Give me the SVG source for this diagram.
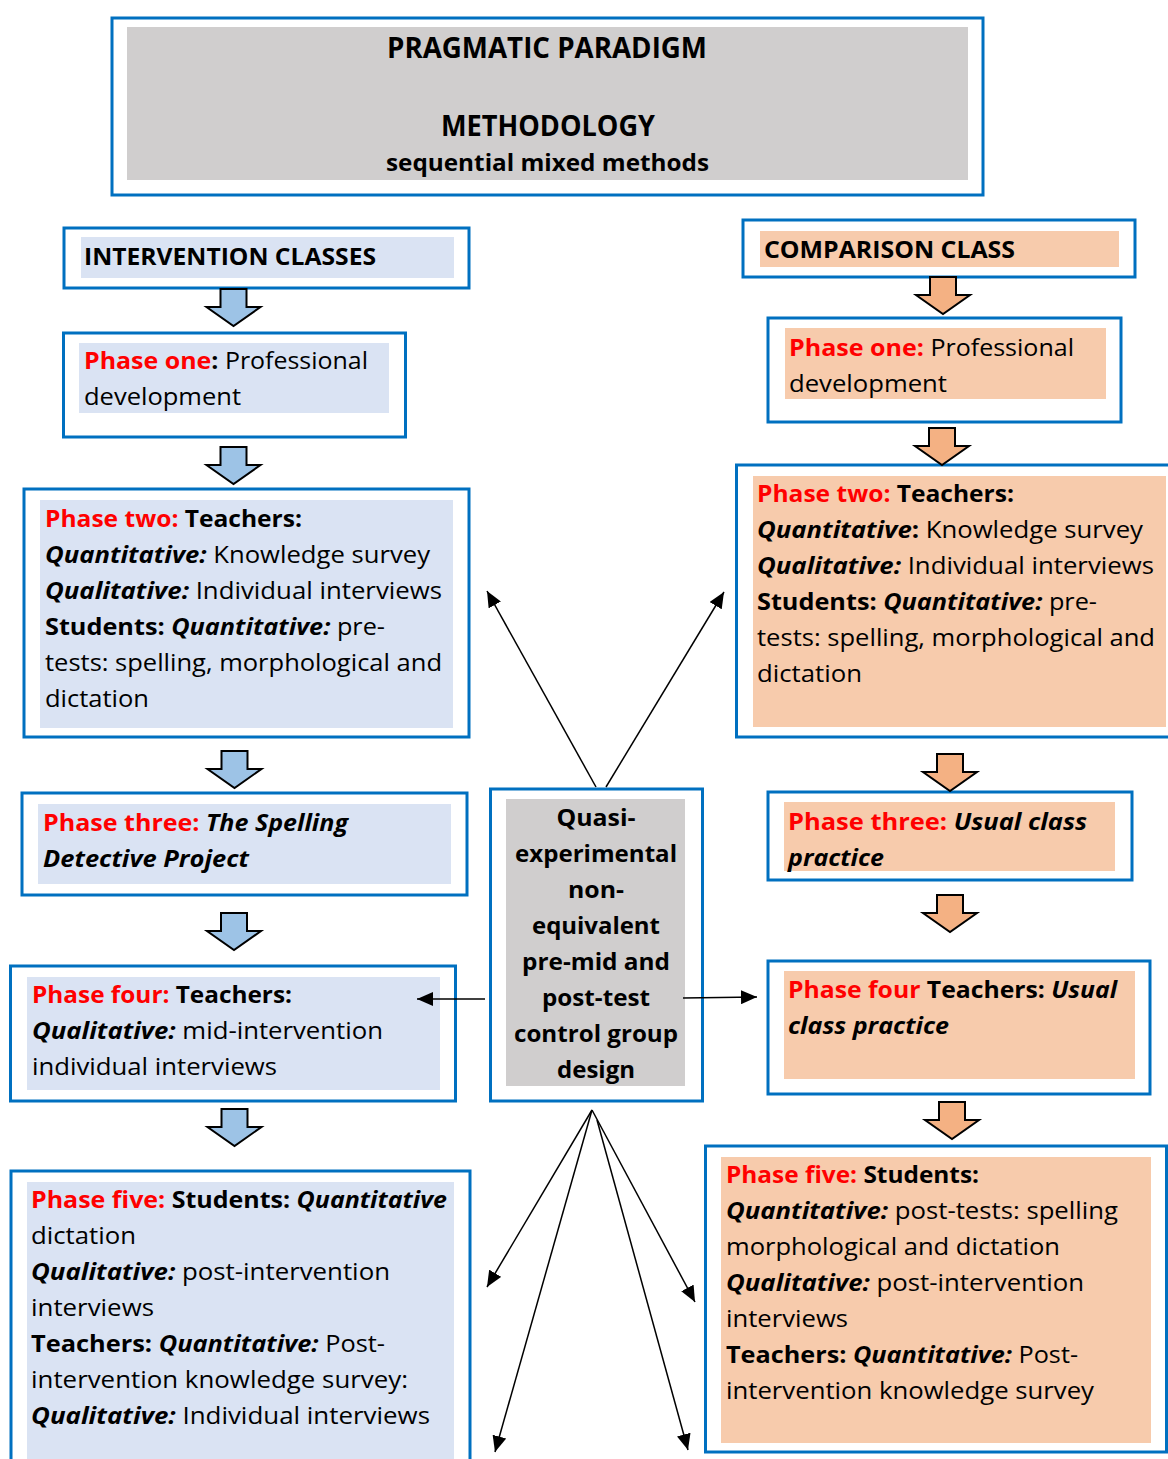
<svg xmlns="http://www.w3.org/2000/svg" xmlns:xlink="http://www.w3.org/1999/xlink" width="1168" height="1459" viewBox="0 0 1168 1459">
  <style>
    .frame { fill: #ffffff; stroke: #0070C0; stroke-width: 3; }
    .grey { fill: #D0CECE; }
    .blue { fill: #DAE3F3; }
    .peach { fill: #F7CBAC; }
    .t { font-family: "Open Sans", "Noto Sans", "Liberation Sans", sans-serif; font-size: 24px; fill: #000000; }
    .h { font-size: 28px; font-weight: bold; }
    .b { font-weight: bold; }
    .i { font-style: italic; }
    .r { fill: #FF0000; }
    .c { text-anchor: middle; }
    .down-blue { fill: #9DC3E6; stroke: #000000; stroke-width: 2; stroke-linejoin: miter; }
    .down-peach { fill: #F4B183; stroke: #000000; stroke-width: 2; stroke-linejoin: miter; }
    .link { stroke: #000000; stroke-width: 1.5; fill: none; marker-end: url(#head); }
  </style>
  <defs>
    <marker id="head" markerUnits="userSpaceOnUse" markerWidth="18" markerHeight="14" refX="16" refY="7" orient="auto">
      <path d="M0,0 L16,7 L0,14 Z" fill="#000000"/>
    </marker>
    <path id="blockArrow" d="M-13,0 H13 V18 H27 L0,37 L-27,18 H-13 Z"/>
  </defs>

  <rect width="1168" height="1459" fill="#ffffff"/>

  <!-- paradigm / methodology header -->
  <g id="header">
    <rect class="frame" x="112" y="18" width="871" height="177"/>
    <rect class="grey" x="127" y="27" width="841" height="153"/>
    <text class="t h c" x="547" y="58" textLength="320" lengthAdjust="spacingAndGlyphs">PRAGMATIC PARADIGM</text>
    <text class="t h c" x="548" y="136" textLength="214" lengthAdjust="spacingAndGlyphs">METHODOLOGY</text>
    <text class="t b c" x="547.5" y="171" textLength="323" lengthAdjust="spacingAndGlyphs">sequential mixed methods</text>
  </g>

  <!-- intervention column -->
  <g id="intervention-classes">
    <rect class="frame" x="64" y="228" width="405" height="60"/>
    <rect class="blue" x="81" y="237" width="373" height="41"/>
    <text class="t b" x="84" y="265" textLength="292" lengthAdjust="spacingAndGlyphs">INTERVENTION CLASSES</text>
  </g>

  <g id="int-phase-one">
    <rect class="frame" x="63.5" y="333" width="342" height="104"/>
    <rect class="blue" x="79" y="343" width="310" height="70"/>
    <text class="t" x="84" y="369" textLength="284" lengthAdjust="spacingAndGlyphs"><tspan class="b r">Phase one</tspan><tspan class="b">:</tspan> Professional</text>
    <text class="t" x="84" y="405" textLength="157" lengthAdjust="spacingAndGlyphs">development</text>
  </g>

  <g id="int-phase-two">
    <rect class="frame" x="24" y="489" width="445" height="248"/>
    <rect class="blue" x="40" y="500" width="413" height="228"/>
    <text class="t" x="45" y="527" textLength="257" lengthAdjust="spacingAndGlyphs"><tspan class="b r">Phase two: </tspan><tspan class="b">Teachers:</tspan></text>
    <text class="t" x="45" y="563" textLength="385" lengthAdjust="spacingAndGlyphs"><tspan class="b i">Quantitative:</tspan> Knowledge survey</text>
    <text class="t" x="45" y="599" textLength="397" lengthAdjust="spacingAndGlyphs"><tspan class="b i">Qualitative:</tspan> Individual interviews</text>
    <text class="t" x="45" y="635" textLength="340" lengthAdjust="spacingAndGlyphs"><tspan class="b">Students: </tspan><tspan class="b i">Quantitative:</tspan> pre-</text>
    <text class="t" x="45" y="671" textLength="397" lengthAdjust="spacingAndGlyphs">tests: spelling, morphological and</text>
    <text class="t" x="45" y="707" textLength="104" lengthAdjust="spacingAndGlyphs">dictation</text>
  </g>

  <g id="int-phase-three">
    <rect class="frame" x="22" y="793" width="445" height="102"/>
    <rect class="blue" x="38" y="804" width="413" height="80"/>
    <text class="t" x="43" y="831" textLength="305" lengthAdjust="spacingAndGlyphs"><tspan class="b r">Phase three: </tspan><tspan class="b i">The Spelling</tspan></text>
    <text class="t b i" x="43" y="867" textLength="206" lengthAdjust="spacingAndGlyphs">Detective Project</text>
  </g>

  <g id="int-phase-four">
    <rect class="frame" x="10.5" y="966" width="445" height="135"/>
    <rect class="blue" x="27" y="977" width="413" height="113"/>
    <text class="t" x="32" y="1003" textLength="260" lengthAdjust="spacingAndGlyphs"><tspan class="b r">Phase four: </tspan><tspan class="b">Teachers:</tspan></text>
    <text class="t" x="32" y="1039" textLength="351" lengthAdjust="spacingAndGlyphs"><tspan class="b i">Qualitative:</tspan> mid-intervention</text>
    <text class="t" x="32" y="1075" textLength="245" lengthAdjust="spacingAndGlyphs">individual interviews</text>
  </g>

  <g id="int-phase-five">
    <rect class="frame" x="11" y="1171" width="459" height="300"/>
    <rect class="blue" x="27" y="1182" width="427" height="277"/>
    <text class="t" x="31" y="1208" textLength="416" lengthAdjust="spacingAndGlyphs"><tspan class="b r">Phase five: </tspan><tspan class="b">Students: </tspan><tspan class="b i">Quantitative</tspan></text>
    <text class="t" x="31" y="1244" textLength="105" lengthAdjust="spacingAndGlyphs">dictation</text>
    <text class="t" x="31" y="1280" textLength="359" lengthAdjust="spacingAndGlyphs"><tspan class="b i">Qualitative:</tspan> post-intervention</text>
    <text class="t" x="31" y="1316" textLength="123" lengthAdjust="spacingAndGlyphs">interviews</text>
    <text class="t" x="31" y="1352" textLength="354" lengthAdjust="spacingAndGlyphs"><tspan class="b">Teachers: </tspan><tspan class="b i">Quantitative:</tspan> Post-</text>
    <text class="t" x="31" y="1388" textLength="377" lengthAdjust="spacingAndGlyphs">intervention knowledge survey:</text>
    <text class="t" x="31" y="1424" textLength="399" lengthAdjust="spacingAndGlyphs"><tspan class="b i">Qualitative:</tspan> Individual interviews</text>
  </g>

  <!-- design box in the middle -->
  <g id="design">
    <rect class="frame" x="490.5" y="789" width="212" height="312"/>
    <rect class="grey" x="506" y="799" width="179" height="287"/>
    <text class="t b c" x="596" y="826" textLength="79" lengthAdjust="spacingAndGlyphs">Quasi-</text>
    <text class="t b c" x="596" y="862" textLength="162" lengthAdjust="spacingAndGlyphs">experimental</text>
    <text class="t b c" x="596" y="898" textLength="56" lengthAdjust="spacingAndGlyphs">non-</text>
    <text class="t b c" x="596" y="934" textLength="128" lengthAdjust="spacingAndGlyphs">equivalent</text>
    <text class="t b c" x="596" y="970" textLength="148" lengthAdjust="spacingAndGlyphs">pre-mid and</text>
    <text class="t b c" x="596" y="1006" textLength="108" lengthAdjust="spacingAndGlyphs">post-test</text>
    <text class="t b c" x="596" y="1042" textLength="164" lengthAdjust="spacingAndGlyphs">control group</text>
    <text class="t b c" x="596" y="1078" textLength="78" lengthAdjust="spacingAndGlyphs">design</text>
  </g>

  <!-- comparison column -->
  <g id="comparison-class">
    <rect class="frame" x="743" y="220" width="392" height="57"/>
    <rect class="peach" x="760" y="231" width="359" height="36"/>
    <text class="t b" x="764" y="258" textLength="251" lengthAdjust="spacingAndGlyphs">COMPARISON CLASS</text>
  </g>

  <g id="cmp-phase-one">
    <rect class="frame" x="768" y="318" width="353" height="104"/>
    <rect class="peach" x="785" y="328" width="321" height="71"/>
    <text class="t" x="789" y="356" textLength="285" lengthAdjust="spacingAndGlyphs"><tspan class="b r">Phase one:</tspan> Professional</text>
    <text class="t" x="789" y="392" textLength="158" lengthAdjust="spacingAndGlyphs">development</text>
  </g>

  <g id="cmp-phase-two">
    <rect class="frame" x="736.5" y="465" width="445" height="272"/>
    <rect class="peach" x="753" y="476" width="413" height="251"/>
    <text class="t" x="757" y="502" textLength="257" lengthAdjust="spacingAndGlyphs"><tspan class="b r">Phase two: </tspan><tspan class="b">Teachers:</tspan></text>
    <text class="t" x="757" y="538" textLength="386" lengthAdjust="spacingAndGlyphs"><tspan class="b i">Quantitative</tspan><tspan class="b">:</tspan> Knowledge survey</text>
    <text class="t" x="757" y="574" textLength="397" lengthAdjust="spacingAndGlyphs"><tspan class="b i">Qualitative:</tspan> Individual interviews</text>
    <text class="t" x="757" y="610" textLength="340" lengthAdjust="spacingAndGlyphs"><tspan class="b">Students: </tspan><tspan class="b i">Quantitative:</tspan> pre-</text>
    <text class="t" x="757" y="646" textLength="398" lengthAdjust="spacingAndGlyphs">tests: spelling, morphological and</text>
    <text class="t" x="757" y="682" textLength="105" lengthAdjust="spacingAndGlyphs">dictation</text>
  </g>

  <g id="cmp-phase-three">
    <rect class="frame" x="768" y="792" width="364" height="88"/>
    <rect class="peach" x="784" y="802" width="331" height="69"/>
    <text class="t" x="788" y="830" textLength="299" lengthAdjust="spacingAndGlyphs"><tspan class="b r">Phase three:  </tspan><tspan class="b i">Usual class</tspan></text>
    <text class="t b i" x="788" y="866" textLength="96" lengthAdjust="spacingAndGlyphs">practice</text>
  </g>

  <g id="cmp-phase-four">
    <rect class="frame" x="768" y="961" width="382" height="133"/>
    <rect class="peach" x="784" y="971" width="351" height="108"/>
    <text class="t" x="788" y="998" textLength="329" lengthAdjust="spacingAndGlyphs"><tspan class="b r">Phase four </tspan><tspan class="b">Teachers: </tspan><tspan class="b i">Usual</tspan></text>
    <text class="t b i" x="788" y="1034" textLength="161" lengthAdjust="spacingAndGlyphs">class practice</text>
  </g>

  <g id="cmp-phase-five">
    <rect class="frame" x="705.5" y="1146" width="461" height="306"/>
    <rect class="peach" x="721" y="1157" width="430" height="286"/>
    <text class="t" x="726" y="1183" textLength="253" lengthAdjust="spacingAndGlyphs"><tspan class="b r">Phase five: </tspan><tspan class="b">Students:</tspan></text>
    <text class="t" x="726" y="1219" textLength="392" lengthAdjust="spacingAndGlyphs"><tspan class="b i">Quantitative:</tspan> post-tests: spelling</text>
    <text class="t" x="726" y="1255" textLength="334" lengthAdjust="spacingAndGlyphs">morphological and dictation</text>
    <text class="t" x="726" y="1291" textLength="358" lengthAdjust="spacingAndGlyphs"><tspan class="b i">Qualitative:</tspan> post-intervention</text>
    <text class="t" x="726" y="1327" textLength="122" lengthAdjust="spacingAndGlyphs">interviews</text>
    <text class="t" x="726" y="1363" textLength="352" lengthAdjust="spacingAndGlyphs"><tspan class="b">Teachers: </tspan><tspan class="b i">Quantitative:</tspan> Post-</text>
    <text class="t" x="726" y="1399" textLength="368" lengthAdjust="spacingAndGlyphs">intervention knowledge survey</text>
  </g>

  <!-- connectors: block arrows between phases, thin arrows from the design box -->
  <g id="connectors">
    <use xlink:href="#blockArrow" class="down-blue" transform="translate(233.5,289)"/>
    <use xlink:href="#blockArrow" class="down-blue" transform="translate(233.5,447)"/>
    <use xlink:href="#blockArrow" class="down-blue" transform="translate(234.5,751)"/>
    <use xlink:href="#blockArrow" class="down-blue" transform="translate(234,913)"/>
    <use xlink:href="#blockArrow" class="down-blue" transform="translate(234.5,1109)"/>

    <use xlink:href="#blockArrow" class="down-peach" transform="translate(943,277)"/>
    <use xlink:href="#blockArrow" class="down-peach" transform="translate(942,428)"/>
    <use xlink:href="#blockArrow" class="down-peach" transform="translate(950,754)"/>
    <use xlink:href="#blockArrow" class="down-peach" transform="translate(950,895)"/>
    <use xlink:href="#blockArrow" class="down-peach" transform="translate(952,1102)"/>

    <line class="link" x1="596" y1="787" x2="487" y2="591"/>
    <line class="link" x1="606" y1="787" x2="724" y2="592"/>
    <line class="link" x1="485" y1="999" x2="417" y2="999"/>
    <line class="link" x1="683" y1="998" x2="757" y2="997"/>
    <line class="link" x1="592" y1="1110" x2="487" y2="1287"/>
    <line class="link" x1="592" y1="1110" x2="495" y2="1452"/>
    <line class="link" x1="597" y1="1120" x2="688" y2="1450"/>
    <line class="link" x1="592" y1="1110" x2="695" y2="1302"/>
  </g>
</svg>
